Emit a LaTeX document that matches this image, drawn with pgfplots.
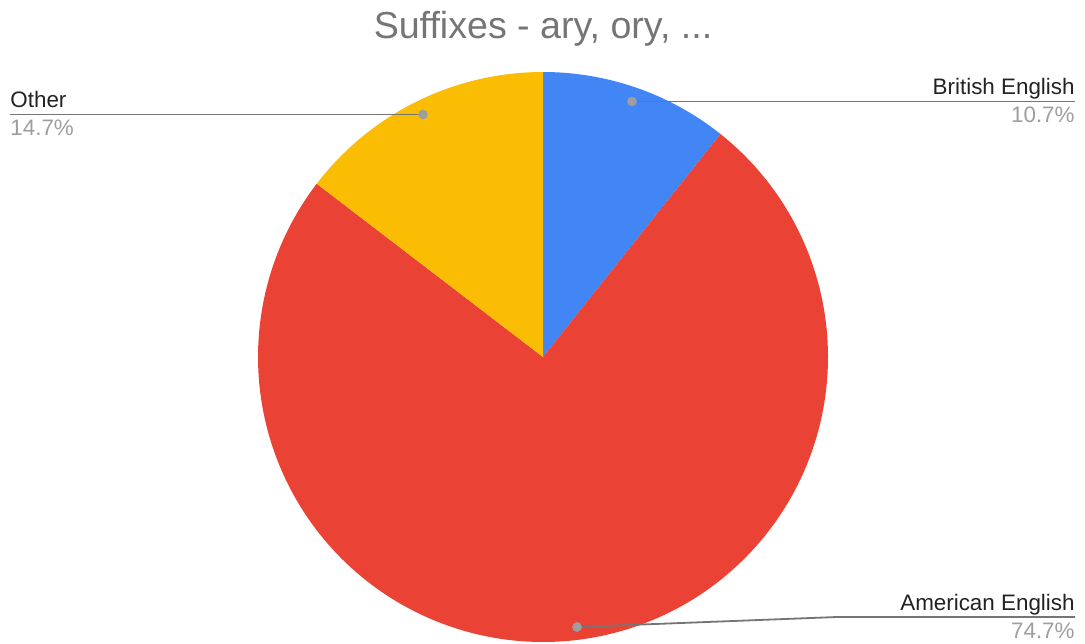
\documentclass[border=0pt]{standalone}
\usepackage{fontspec}
\setmainfont{Liberation Sans}
\usepackage{pgfplots}
\usepackage{pgfplotstable}
\pgfplotsset{compat=1.18}
\definecolor{gblue}{HTML}{4285F4}
\definecolor{gred}{HTML}{EA4335}
\definecolor{gyellow}{HTML}{FBBC04}
\definecolor{titlegray}{HTML}{757575}
\definecolor{labelblack}{HTML}{222222}
\definecolor{pctgray}{HTML}{9E9E9E}
\definecolor{linegray}{HTML}{757575}
\pgfplotstableread{
label value
British 10.7
American 74.7
Other 14.7
}\piedata
\pgfplotstablegetelem{0}{value}\of\piedata \let\vA\pgfplotsretval
\pgfplotstablegetelem{1}{value}\of\piedata \let\vB\pgfplotsretval
\pgfplotstablegetelem{2}{value}\of\piedata \let\vC\pgfplotsretval
\pgfmathsetmacro\aA{90}
\pgfmathsetmacro\aB{\aA-\vA*3.6}
\pgfmathsetmacro\aC{\aB-\vB*3.6}
\pgfmathsetmacro\aD{-270}
\begin{document}
\begin{tikzpicture}
\begin{axis}[
  scale only axis, width=542.5pt, height=321.5pt,
  xmin=0, xmax=1085, ymin=0, ymax=643,
  hide axis, clip=false,
]
\path (0,0) rectangle (1085,643);
\addplot[fill=gblue, draw=none, domain=\aB:\aA, samples=60] ({543+285*cos(x)},{286+285*sin(x)}) -- (543,286) -- cycle;
\addplot[fill=gred, draw=none, domain=\aC:\aB, samples=200] ({543+285*cos(x)},{286+285*sin(x)}) -- (543,286) -- cycle;
\addplot[fill=gyellow, draw=none, domain=\aD:\aC, samples=60] ({543+285*cos(x)},{286+285*sin(x)}) -- (543,286) -- cycle;
% leader lines
\addplot[linegray, line width=0.9pt] coordinates {(632,541.5) (1075,541.5)};
\addplot[linegray, line width=0.9pt] coordinates {(10,528.5) (423,528.5)};
\addplot[linegray, line width=0.9pt] coordinates {(577,16) (837,26) (1075,26)};
\addplot[pctgray, only marks, mark=*, mark size=2.2pt] coordinates {(632,541.5) (423,528.5) (577,16)};
% text
\node[anchor=base, text=titlegray, font=\fontsize{18.8}{22}\selectfont, inner sep=0pt] at (543,604) {Suffixes - ary, ory, ...};
\node[anchor=base east, text=labelblack, font=\fontsize{11.2}{13}\selectfont, inner sep=0pt] at (1075,548) {British English};
\node[anchor=base east, text=pctgray, font=\fontsize{11.2}{13}\selectfont, inner sep=0pt] at (1075,520) {10.7\%};
\node[anchor=base west, text=labelblack, font=\fontsize{11.2}{13}\selectfont, inner sep=0pt] at (10,535) {Other};
\node[anchor=base west, text=pctgray, font=\fontsize{11.2}{13}\selectfont, inner sep=0pt] at (10,507) {14.7\%};
\node[anchor=base east, text=labelblack, font=\fontsize{11.2}{13}\selectfont, inner sep=0pt] at (1075,33) {American English};
\node[anchor=base east, text=pctgray, font=\fontsize{11.2}{13}\selectfont, inner sep=0pt] at (1075,5) {74.7\%};
\end{axis}
\end{tikzpicture}
\end{document}
